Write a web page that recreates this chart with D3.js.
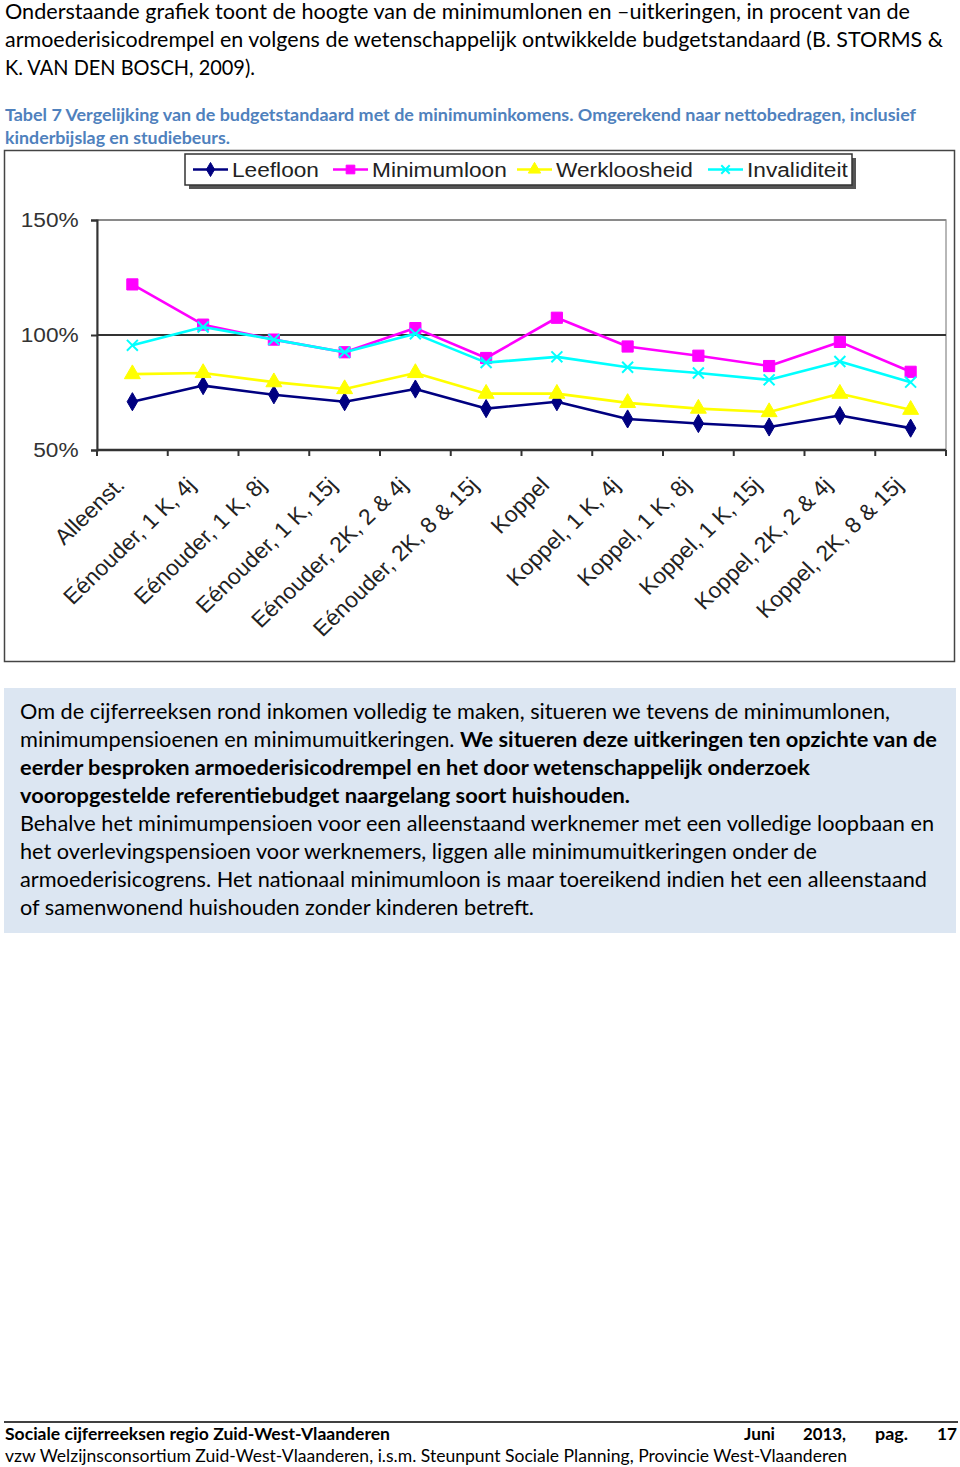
<!DOCTYPE html>
<html>
<head>
<meta charset="utf-8">
<script src="https://cdn.jsdelivr.net/npm/d3@7"></script>
<style>
  body { margin: 0; background: #fff; }
  svg { display: block; }
</style>
</head>
<body>
<svg id="page" width="960" height="1467"></svg>
<script>
// chart data (percent of the budget standard)
const categories = ["Alleenst.", "Eénouder, 1 K, 4j", "Eénouder, 1 K, 8j", "Eénouder, 1 K, 15j",
    "Eénouder, 2K, 2 & 4j", "Eénouder, 2K, 8 & 15j", "Koppel", "Koppel, 1 K, 4j",
    "Koppel, 1 K, 8j", "Koppel, 1 K, 15j", "Koppel, 2K, 2 & 4j", "Koppel, 2K, 8 & 15j"];
const leefloon     = [71, 78, 74, 71, 76.5, 68, 71, 63.5, 61.5, 60, 65, 59.5];
const minimumloon  = [122, 104.5, 98, 92.5, 103, 90, 107.5, 95, 91, 86.5, 97, 84];
const werkloosheid = [83, 83.5, 79.5, 76.5, 83.5, 74.5, 74.5, 70.5, 68, 66.5, 74.5, 67.5];
const invaliditeit = [95.5, 103.5, 98, 92.5, 100.5, 88, 90.5, 86, 83.5, 80.5, 88.5, 79.5];
const seriesNames = ["Leefloon", "Minimumloon", "Werkloosheid", "Invaliditeit"];
const yTicks = [50, 100, 150];

// page text
const introLines = [
    "Onderstaande grafiek toont de hoogte van de minimumlonen en \u2013uitkeringen, in procent van de",
    "armoederisicodrempel en volgens de wetenschappelijk ontwikkelde budgetstandaard (B. STORMS &",
    "K. VAN DEN BOSCH, 2009)."
];
const captionLines = [
    "Tabel 7 Vergelijking van de budgetstandaard met de minimuminkomens. Omgerekend naar nettobedragen, inclusief",
    "kinderbijslag en studiebeurs."
];
const boxLines = [
    [["Om de cijferreeksen rond inkomen volledig te maken, situeren we tevens de minimumlonen,", false]],
    [["minimumpensioenen en minimumuitkeringen. ", false], ["We situeren deze uitkeringen ten opzichte van de", true]],
    [["eerder besproken armoederisicodrempel en het door wetenschappelijk onderzoek", true]],
    [["vooropgestelde referentiebudget naargelang soort huishouden.", true]],
    [["Behalve het minimumpensioen voor een alleenstaand werknemer met een volledige loopbaan en", false]],
    [["het overlevingspensioen voor werknemers, liggen alle minimumuitkeringen onder de", false]],
    [["armoederisicogrens. Het nationaal minimumloon is maar toereikend indien het een alleenstaand", false]],
    [["of samenwonend huishouden zonder kinderen betreft.", false]]
];
const footerTitle = "Sociale cijferreeksen regio Zuid-West-Vlaanderen";
const footerDate = ["Juni", "2013,", "pag.", "17"];
const footerLine2 = "vzw Welzijnsconsortium Zuid-West-Vlaanderen, i.s.m. Steunpunt Sociale Planning, Provincie West-Vlaanderen";

const svg = d3.select("#page");
const bodyFont = "Lato, 'Open Sans', sans-serif";
const chartFont = "'Liberation Sans', Arial, sans-serif";

// text line squeezed to the width it has in the document
function textLine(x, y, parts, width, size, color) {
    const t = svg.append("text")
        .attr("x", x).attr("y", y)
        .attr("font-family", bodyFont)
        .attr("font-size", size)
        .attr("fill", color || "#000");
    parts.forEach(p => {
        t.append("tspan").attr("font-weight", p[1] ? "bold" : "normal").text(p[0]);
    });
    if (width) t.attr("textLength", width).attr("lengthAdjust", "spacingAndGlyphs");
    return t;
}

// intro paragraph
const introWidths = [905, 938, 250];
introLines.forEach((s, i) => textLine(5, 19 + i * 28, [[s, false]], introWidths[i], 20.5));

// caption
const captionWidths = [911, 225];
captionLines.forEach((s, i) => textLine(5, 121 + i * 23, [[s, true]], captionWidths[i], 17, "#4f81bd"));

// ---------- chart ----------
svg.append("rect")
    .attr("x", 4.5).attr("y", 150.5).attr("width", 950).attr("height", 511)
    .attr("fill", "#fff").attr("stroke", "#444").attr("stroke-width", 1.5);

const plot = {left: 97, right: 946, top: 220, bottom: 450};
const x = d3.scaleBand().domain(categories).range([plot.left, plot.right]);
const y = d3.scaleLinear().domain([50, 150]).range([plot.bottom, plot.top]);

// plot area border
svg.append("rect")
    .attr("x", plot.left).attr("y", plot.top)
    .attr("width", plot.right - plot.left).attr("height", plot.bottom - plot.top)
    .attr("fill", "none").attr("stroke", "#a0a0a0").attr("stroke-width", 1.5);

// gridlines
svg.append("g").selectAll("line")
    .data(yTicks.slice(1))
    .join("line")
    .attr("x1", plot.left).attr("x2", plot.right)
    .attr("y1", d => y(d)).attr("y2", d => y(d))
    .attr("stroke", d => d === 150 ? "#8a8a8a" : "#333")
    .attr("stroke-width", 1.8);

// y axis
const yAxis = svg.append("g")
    .attr("transform", `translate(${plot.left},0)`)
    .call(d3.axisLeft(y).tickValues(yTicks).tickFormat(d => d + "%").tickSize(6).tickPadding(11));
yAxis.select(".domain").attr("stroke", "#333").attr("stroke-width", 2);
yAxis.selectAll(".tick line").attr("stroke", "#333").attr("stroke-width", 2);
yAxis.selectAll(".tick text")
    .attr("font-family", chartFont).attr("font-size", 21).attr("fill", "#333")
    .attr("transform", "scale(1.08,1)");

// x axis: ticks between categories
const xBounds = categories.map(c => x(c)).concat([x.range()[1]]);
const xAxis = svg.append("g");
xAxis.append("line")
    .attr("x1", plot.left).attr("x2", plot.right)
    .attr("y1", plot.bottom).attr("y2", plot.bottom)
    .attr("stroke", "#333").attr("stroke-width", 2.5);
xAxis.selectAll(".tk")
    .data(xBounds)
    .join("line")
    .attr("x1", d => d).attr("x2", d => d)
    .attr("y1", plot.bottom).attr("y2", plot.bottom + 6)
    .attr("stroke", "#333").attr("stroke-width", 2);
xAxis.selectAll(".lbl")
    .data(categories)
    .join("text")
    .attr("transform", d => `translate(${x(d) + x.bandwidth() / 2 - 12},481) scale(1.04,1) rotate(-45)`)
    .attr("text-anchor", "end")
    .attr("dy", "0.35em")
    .attr("font-family", chartFont)
    .attr("font-size", 22)
    .attr("fill", "#222")
    .text(d => d);

// series
const series = [
    {name: seriesNames[0], values: leefloon, color: "#000080", symbol: d3.symbolDiamond, size: 95, fill: true},
    {name: seriesNames[1], values: minimumloon, color: "#ff00ff", symbol: d3.symbolSquare, size: 125, fill: true},
    {name: seriesNames[2], values: werkloosheid, color: "#ffff00", symbol: d3.symbolTriangle, size: 110, fill: true},
    {name: seriesNames[3], values: invaliditeit, color: "#00ffff", symbol: d3.symbolX, size: 80, fill: false}
];

const line = d3.line()
    .x((d, i) => x(categories[i]) + x.bandwidth() / 2)
    .y(d => y(d));

function drawMarker(sel, s) {
    sel.attr("d", d3.symbol().type(s.symbol).size(s.size))
        .attr("fill", s.fill ? s.color : "none")
        .attr("stroke", s.color)
        .attr("stroke-width", s.fill ? 1 : 2);
}

series.forEach(s => {
    const g = svg.append("g");
    g.append("path")
        .attr("d", line(s.values))
        .attr("fill", "none")
        .attr("stroke", s.color)
        .attr("stroke-width", 2.6)
        .attr("stroke-linejoin", "round");
    g.selectAll("path.mk")
        .data(s.values)
        .join("path")
        .attr("class", "mk")
        .attr("transform", (d, i) => `translate(${x(categories[i]) + x.bandwidth() / 2},${y(d)})`)
        .call(drawMarker, s);
});

// legend
const legendBox = {x: 185, y: 154, w: 667, h: 31};
svg.append("rect")
    .attr("x", legendBox.x + 4).attr("y", legendBox.y + 4)
    .attr("width", legendBox.w).attr("height", legendBox.h)
    .attr("fill", "#555");
svg.append("rect")
    .attr("x", legendBox.x).attr("y", legendBox.y)
    .attr("width", legendBox.w).attr("height", legendBox.h)
    .attr("fill", "#fff").attr("stroke", "#333").attr("stroke-width", 1.5);

const legendX = [193, 333, 517, 708];
const legendItem = svg.append("g").selectAll("g")
    .data(series)
    .join("g")
    .attr("transform", (d, i) => `translate(${legendX[i]},${legendBox.y + legendBox.h / 2})`);
legendItem.append("line")
    .attr("x1", 0).attr("x2", 35)
    .attr("stroke", d => d.color).attr("stroke-width", 2.6);
legendItem.append("path")
    .attr("transform", "translate(17.5,0)")
    .each(function (d) {
        d3.select(this).call(drawMarker, Object.assign({}, d, {size: d.size * 0.6}));
    });
legendItem.append("text")
    .attr("transform", "translate(39,0) scale(1.08,1)")
    .attr("dy", "0.36em")
    .attr("font-family", chartFont)
    .attr("font-size", 21)
    .attr("fill", "#222")
    .text(d => d.name);

// ---------- text box ----------
svg.append("rect")
    .attr("x", 4).attr("y", 688).attr("width", 952).attr("height", 245)
    .attr("fill", "#dce6f2");
const boxWidths = [870, 917, 790, 610, 914, 797, 907, 514];
boxLines.forEach((parts, i) => textLine(20, 719 + i * 28, parts, boxWidths[i], 20.5));

// ---------- footer ----------
svg.append("line")
    .attr("x1", 4).attr("x2", 958).attr("y1", 1422).attr("y2", 1422)
    .attr("stroke", "#000").attr("stroke-width", 1.5);
textLine(5, 1440, [[footerTitle, true]], 385, 17);
const dateX = [744, 803, 875, 937];
const dateW = [31, 43, 33, 20];
footerDate.forEach((s, i) => textLine(dateX[i], 1440, [[s, true]], dateW[i], 17));
textLine(5, 1462, [[footerLine2, false]], 842, 17);
</script>
</body>
</html>
